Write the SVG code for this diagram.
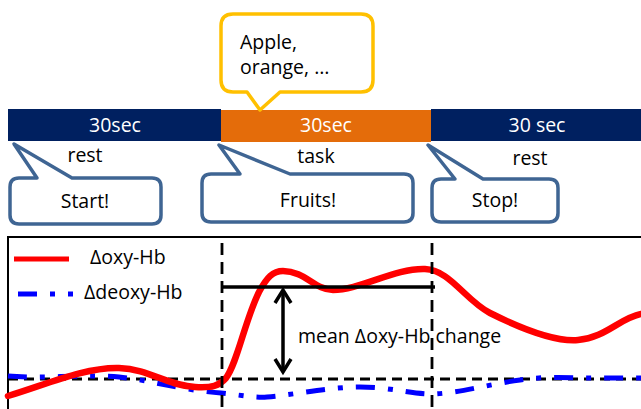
<svg xmlns="http://www.w3.org/2000/svg" width="641" height="409" viewBox="0 0 641 409">
<defs>
<style>
text{font-family:"Open Sans","Noto Sans",sans-serif;font-size:19.5px;fill:#000}
.w{fill:#fff}
.call{fill:#fff;stroke:#3F6593;stroke-width:3.5;stroke-linejoin:round}
.dash{fill:none;stroke:#000;stroke-width:2.8;stroke-dasharray:12 7}
.red{fill:none;stroke:#FF0000;stroke-width:6.5;stroke-linecap:round}
.blue{fill:none;stroke:#0000FF;stroke-width:5;stroke-dasharray:19 13 5 13}
</style>
</defs>
<rect width="641" height="409" fill="#fff"/>

<g id="bar-rest1">
<rect x="8" y="109" width="213" height="32" fill="#002060"/>
<text class="w" x="115" y="132" text-anchor="middle">30sec</text>
</g>
<g id="bar-task">
<rect x="221" y="110" width="210" height="32" fill="#E46C0A"/>
<text class="w" x="326" y="132" text-anchor="middle">30sec</text>
</g>
<g id="bar-rest2">
<rect x="431" y="109" width="210" height="32" fill="#002060"/>
<text class="w" x="537" y="132" text-anchor="middle">30 sec</text>
</g>

<g id="callout-apple">
<path d="M233 14 H361 Q373 14 373 26 V80 Q373 92 361 92 H280 L260 110 L247 92 H233 Q221 92 221 80 V26 Q221 14 233 14 Z" fill="#fff" stroke="#FFC000" stroke-width="3.5" stroke-linejoin="round"/>
<text x="240" y="49">Apple,</text>
<text x="240" y="74">orange, …</text>
</g>

<g id="label-rest1"><text x="85" y="162" text-anchor="middle">rest</text></g>
<g id="label-task"><text x="316" y="163" text-anchor="middle">task</text></g>
<g id="label-rest2"><text x="530" y="165" text-anchor="middle">rest</text></g>

<g id="callout-start">
<path class="call" d="M19 178 H37 L14 144 L72 178 H152 Q161 178 161 187 V215 Q161 224 152 224 H19 Q10 224 10 215 V187 Q10 178 19 178 Z"/>
<text x="85" y="208" text-anchor="middle">Start!</text>
</g>
<g id="callout-fruits">
<path class="call" d="M211 174 H240 L219 145 L290 174 H404 Q413 174 413 183 V213 Q413 222 404 222 H211 Q202 222 202 213 V183 Q202 174 211 174 Z"/>
<text x="308" y="207" text-anchor="middle">Fruits!</text>
</g>
<g id="callout-stop">
<path class="call" d="M441 179 H455 L428 145 L483 179 H549 Q558 179 558 188 V213 Q558 222 549 222 H441 Q432 222 432 213 V188 Q432 179 441 179 Z"/>
<text x="495" y="207" text-anchor="middle">Stop!</text>
</g>

<g id="chart">
<rect x="8" y="237" width="650" height="190" fill="none" stroke="#000" stroke-width="2"/>
<line x1="14" y1="259" x2="69" y2="259" stroke="#FF0000" stroke-width="5"/>
<text x="90" y="264">Δoxy-Hb</text>
<line class="blue" x1="18" y1="294" x2="73" y2="294"/>
<text x="84" y="299">Δdeoxy-Hb</text>
<line class="dash" x1="8" y1="379" x2="641" y2="379" style="stroke-dasharray:10 6"/>
<path class="blue" d="M8 376 C40 379 90 374 119 377 C150 380 180 390 221 393 C240 395 255 398 267 397 C300 394 330 387 360 387 C390 387 410 394 433 394 C460 393 490 384 520 380 C540 377 560 377 580 378 L641 378"/>
<path class="red" d="M8 396 C45 385 85 367 119 368 C150 369 165 385 195 387 C212 388 219 386 226 378 C237 364 245 320 259 292 C267 277 273 271 283 271 C305 271 315 290 333 290 C360 290 395 268 425 269 C450 270 465 300 490 313 C520 328 555 342 578 340 C605 338 620 318 641 314"/>
<line x1="222" y1="287" x2="435" y2="287" stroke="#000" stroke-width="3.5"/>
<text x="298" y="343">mean Δoxy-Hb change</text>
<line class="dash" x1="222" y1="243" x2="222" y2="409"/>
<line class="dash" x1="432" y1="243" x2="432" y2="409"/>
</g>

<g id="connectors" fill="none" stroke="#000" stroke-width="3.5">
<line x1="283" y1="290" x2="283" y2="372"/>
<path d="M275 303 L283 290 L291 303"/>
<path d="M275 359 L283 372 L291 359"/>
</g>
</svg>
